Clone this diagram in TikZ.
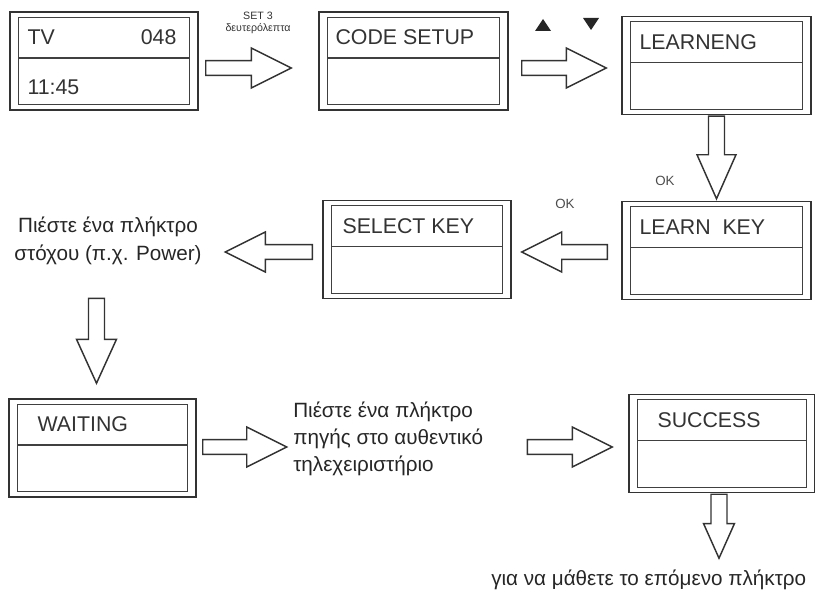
\documentclass[tikz,border=0pt]{standalone}
\usepackage{fontspec}
\setmainfont{Liberation Sans}
\usetikzlibrary{calc, positioning}

% LCD screen: name, centre, width, label x-offset, label
\newcommand{\lcd}[5]{%
  \node[lcd, minimum width=#3*0.75pt] (#1) at (#2) {};
  \draw[inner line] ($(#1.north west)+(9,6)$) rectangle ($(#1.south east)+(-9,-6)$);
  \draw[inner line] ($(#1.west)+(9,-3)$) -- ($(#1.east)+(-9,-3)$);
  \node[lcd text] at ($(#1.north west)+(#4,26)$) {#5};
}
% hollow block arrow: start, end, half shaft, half head, head length
\newcommand{\blockarrow}[5]{%
  \path ($(#2)!#5!(#1)$) coordinate (h);
  \draw[block]
    ($(#1)!#3!90:(#2)$) -- ($(h)!#3!90:(#2)$) -- ($(h)!#4!90:(#2)$) -- (#2)
    -- ($(h)!#4!-90:(#2)$) -- ($(h)!#3!-90:(#2)$) -- ($(#1)!#3!-90:(#2)$) -- cycle;
}

\tikzset{
  lcd/.style={draw=black!80, line width=1.1pt, minimum height=73.5pt, inner sep=0pt},
  inner line/.style={draw=black!75, line width=0.8pt},
  lcd text/.style={anchor=west, font=\fontsize{16}{18}\selectfont, text=black!80, inner sep=0pt},
  block/.style={draw=black!80, line width=1.1pt, fill=white, line join=miter},
  note/.style={font=\fontsize{15.5}{20.5}\selectfont, text=black!85, inner sep=0pt},
  small/.style={font=\fontsize{8}{9}\selectfont, text=black!80, inner sep=0pt},
  ok/.style={font=\fontsize{10}{11}\selectfont, text=black!70, inner sep=0pt}
}

\begin{document}
\begin{tikzpicture}[x=0.75pt, y=-0.75pt]
  \useasboundingbox (0,0) rectangle (815,592);

  % Screens
  \lcd{tv}{104,61}{188}{18}{TV}
  \node[lcd text, anchor=east] at ($(tv.north east)+(-22,26)$) {048};
  \node[lcd text] at ($(tv.south west)+(18,-23)$) {11:45};
  \lcd{code}{413.5,61}{189}{17}{CODE SETUP}
  \lcd{learn}{716.5,65.5}{189}{18}{LEARNENG}
  \lcd{lkey}{716.5,250.5}{189}{18}{LEARN\ \ KEY}
  \lcd{sel}{417,249.5}{188}{20}{SELECT KEY}
  \lcd{wait}{102.5,448}{187}{29}{WAITING}
  \lcd{succ}{722,443.5}{186}{29}{SUCCESS}

  % Notes
  \node[note, align=center] (target) at (108,241) {Πιέστε ένα πλήκτρο\\στόχου (π.χ. Power)};
  \node[note, align=left, anchor=west] (source) at (293,439) {Πιέστε ένα πλήκτρο\\πηγής στο αυθεντικό\\τηλεχειριστήριο};
  \node[note, anchor=west] (next) at (491,580) {για να μάθετε το επόμενο πλήκτρο};

  % Key labels
  \node[small, align=center] (set) at (258,23) {SET 3\\δευτερόλεπτα};
  \node[ok] (ok1) at (665,181) {OK};
  \node[ok] (ok2) at (565,204) {OK};
  \fill[black!85] (535,31) -- (551,31) -- (543,19) -- cycle;
  \fill[black!85] (583,18) -- (599,18) -- (591,30) -- cycle;

  % Arrows
  \coordinate (a1s) at ($(tv.east)+(7,7)$);
  \coordinate (a1e) at ($(code.west)+(-27,7)$);
  \blockarrow{a1s}{a1e}{5.6pt}{15pt}{30pt}
  \coordinate (a2s) at ($(code.east)+(13,7)$);
  \coordinate (a2e) at ($(learn.west)+(-15,2.5)$);
  \blockarrow{a2s}{a2e}{5.6pt}{15pt}{30pt}
  \coordinate (a3s) at ($(learn.south)+(0,1)$);
  \coordinate (a3e) at ($(lkey.north)+(0,-2)$);
  \blockarrow{a3s}{a3e}{6pt}{14.6pt}{33pt}
  \coordinate (a4s) at ($(lkey.west)+(-14,1.5)$);
  \coordinate (a4e) at ($(sel.east)+(10,2.5)$);
  \blockarrow{a4s}{a4e}{5.6pt}{15pt}{30pt}
  \coordinate (a5s) at ($(sel.west)+(-10,2.5)$);
  \coordinate (a5e) at ($(sel.west)+(-97,2.5)$);
  \blockarrow{a5s}{a5e}{5.6pt}{15pt}{30pt}
  \coordinate (a6s) at ($(wait.north)+(-6,-100)$);
  \coordinate (a6e) at ($(wait.north)+(-6,-15)$);
  \blockarrow{a6s}{a6e}{6pt}{15pt}{33pt}
  \coordinate (a7s) at ($(wait.east)+(6,-1)$);
  \coordinate (a7e) at ($(wait.east)+(90,-1)$);
  \blockarrow{a7s}{a7e}{5.6pt}{15pt}{30pt}
  \coordinate (a8s) at ($(succ.west)+(-101,3.5)$);
  \coordinate (a8e) at ($(succ.west)+(-16,3.5)$);
  \blockarrow{a8s}{a8e}{5.6pt}{15pt}{30pt}
  \coordinate (a9s) at ($(succ.south)+(-3,1)$);
  \coordinate (a9e) at ($(succ.south)+(-3,65)$);
  \blockarrow{a9s}{a9e}{6pt}{11.6pt}{26pt}
\end{tikzpicture}
\end{document}
